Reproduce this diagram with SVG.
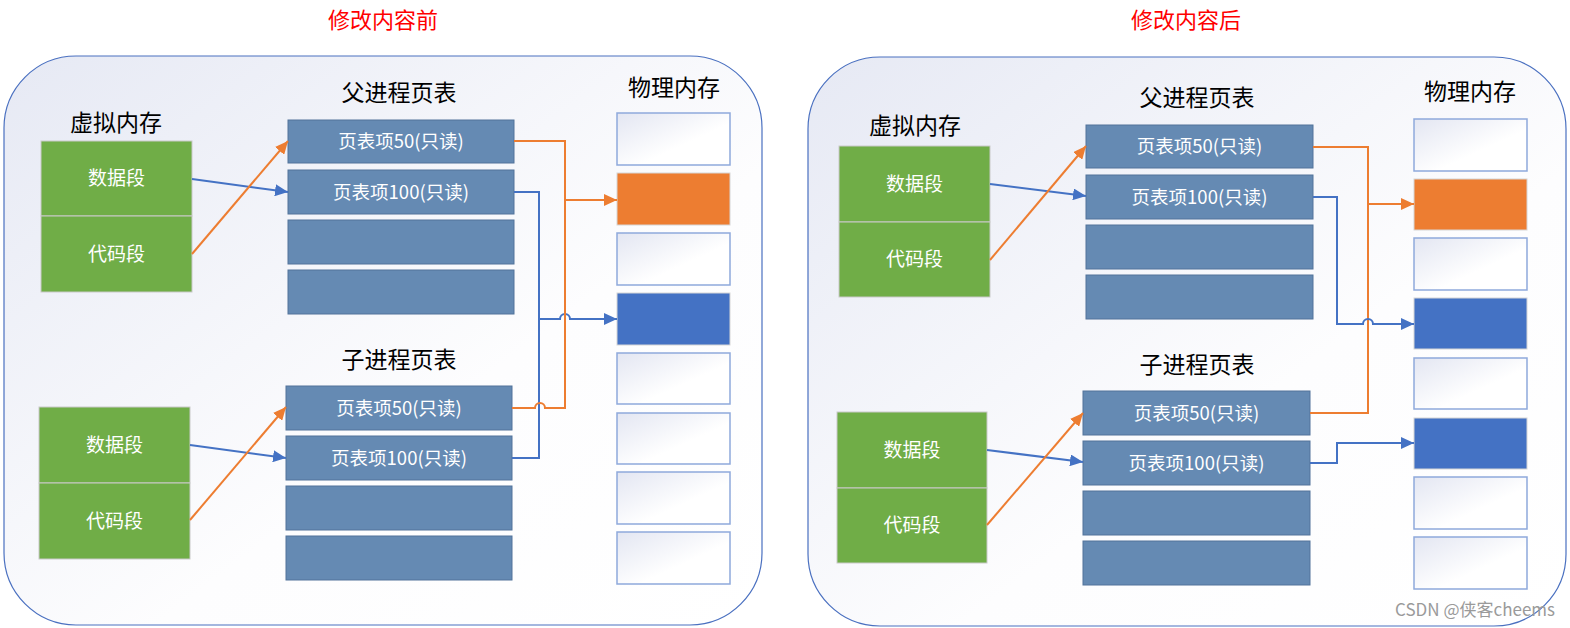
<svg xmlns="http://www.w3.org/2000/svg" width="1570" height="628" viewBox="0 0 1570 628">
<style>
  text { font-family: "Noto Sans CJK SC", "Liberation Sans", sans-serif; }
  .title { font-size: 22px; fill: #FF0000; text-anchor: middle; }
  .head { font-size: 23px; fill: #000000; text-anchor: middle; }
  .seg { fill: #70AD47; stroke: #C9C9C9; stroke-width: 1; }
  .segt { font-size: 19px; fill: #FFFFFF; text-anchor: middle; }
  .row { fill: #658AB3; stroke: #52739A; stroke-width: 1; }
  .rowt { font-size: 18.5px; fill: #FFFFFF; text-anchor: middle; }
  .cell { fill: url(#cellg); stroke: #8EA9DB; stroke-width: 1.5; }
  .cello { fill: #ED7D31; stroke: #D6D6D6; stroke-width: 1; }
  .cellb { fill: #4472C4; stroke: #D6D6D6; stroke-width: 1; }
  .panel { fill: url(#panelg); stroke: #4A70C0; stroke-width: 1.2; }
  .lo { fill: none; stroke: #ED7D31; stroke-width: 2; }
  .lb { fill: none; stroke: #4472C4; stroke-width: 2; }
  .wm { font-size: 17px; fill: #9A9A9A; text-anchor: end; }
</style>
<defs>
  <linearGradient id="panelg" x1="0" y1="0" x2="1" y2="1">
    <stop offset="0" stop-color="#E6E9F4"/>
    <stop offset="0.6" stop-color="#FDFDFE"/>
    <stop offset="1" stop-color="#FFFFFF"/>
  </linearGradient>
  <linearGradient id="cellg" x1="0" y1="0" x2="1" y2="1">
    <stop offset="0" stop-color="#E3E6F2"/>
    <stop offset="0.6" stop-color="#FFFFFF"/>
    <stop offset="1" stop-color="#FFFFFF"/>
  </linearGradient>
  <marker id="ao" markerUnits="userSpaceOnUse" markerWidth="14" markerHeight="12" refX="13" refY="6" orient="auto">
    <path d="M0,0 L13,6 L0,12 z" fill="#ED7D31"/>
  </marker>
  <marker id="ab" markerUnits="userSpaceOnUse" markerWidth="14" markerHeight="12" refX="13" refY="6" orient="auto">
    <path d="M0,0 L13,6 L0,12 z" fill="#4472C4"/>
  </marker>
</defs>

<rect width="1570" height="628" fill="#FFFFFF"/>

<!-- ===== LEFT PANEL ===== -->
<g id="panel-before">
  <rect class="panel" x="4" y="56" width="758" height="569" rx="72" ry="72"/>
  <text class="title" x="383" y="28">修改内容前</text>
</g>
<g id="vm-label-before"><text class="head" x="116" y="131">虚拟内存</text></g>
<g id="vm-parent-before">
  <rect class="seg" x="41" y="141" width="151" height="75"/>
  <text class="segt" x="116.5" y="185">数据段</text>
  <rect class="seg" x="41" y="216" width="151" height="76"/>
  <text class="segt" x="116.5" y="261">代码段</text>
</g>
<g id="vm-child-before">
  <rect class="seg" x="39" y="407" width="151" height="76"/>
  <text class="segt" x="114.5" y="452">数据段</text>
  <rect class="seg" x="39" y="483" width="151" height="76"/>
  <text class="segt" x="114.5" y="528">代码段</text>
</g>
<g id="pt-parent-before">
  <text class="head" x="399" y="101">父进程页表</text>
  <rect class="row" x="288" y="120" width="226" height="43"/>
  <text class="rowt" x="401" y="148">页表项50(只读)</text>
  <rect class="row" x="288" y="170" width="226" height="44"/>
  <text class="rowt" x="401" y="198.5">页表项100(只读)</text>
  <rect class="row" x="288" y="220" width="226" height="44"/>
  <rect class="row" x="288" y="270" width="226" height="44"/>
</g>
<g id="pt-child-before">
  <text class="head" x="399" y="368">子进程页表</text>
  <rect class="row" x="286" y="386" width="226" height="44"/>
  <text class="rowt" x="399" y="414.5">页表项50(只读)</text>
  <rect class="row" x="286" y="436" width="226" height="44"/>
  <text class="rowt" x="399" y="464.5">页表项100(只读)</text>
  <rect class="row" x="286" y="486" width="226" height="44"/>
  <rect class="row" x="286" y="536" width="226" height="44"/>
</g>
<g id="pm-before">
  <text class="head" x="674" y="96">物理内存</text>
  <rect class="cell" x="617" y="113" width="113" height="52"/>
  <rect class="cello" x="617" y="173" width="113" height="52"/>
  <rect class="cell" x="617" y="233" width="113" height="52"/>
  <rect class="cellb" x="617" y="293" width="113" height="52"/>
  <rect class="cell" x="617" y="353" width="113" height="51"/>
  <rect class="cell" x="617" y="413" width="113" height="51"/>
  <rect class="cell" x="617" y="472" width="113" height="52"/>
  <rect class="cell" x="617" y="532" width="113" height="52"/>
</g>

<!-- ===== RIGHT PANEL ===== -->
<g id="panel-after">
  <rect class="panel" x="808" y="57" width="758" height="569" rx="72" ry="72"/>
  <text class="title" x="1186" y="28">修改内容后</text>
</g>
<g id="vm-label-after"><text class="head" x="915" y="134">虚拟内存</text></g>
<g id="vm-parent-after">
  <rect class="seg" x="839" y="146" width="151" height="76"/>
  <text class="segt" x="914.5" y="191">数据段</text>
  <rect class="seg" x="839" y="222" width="151" height="75"/>
  <text class="segt" x="914.5" y="266">代码段</text>
</g>
<g id="vm-child-after">
  <rect class="seg" x="837" y="412" width="150" height="76"/>
  <text class="segt" x="912" y="457">数据段</text>
  <rect class="seg" x="837" y="488" width="150" height="75"/>
  <text class="segt" x="912" y="532">代码段</text>
</g>
<g id="pt-parent-after">
  <text class="head" x="1197" y="106">父进程页表</text>
  <rect class="row" x="1086" y="125" width="227" height="43"/>
  <text class="rowt" x="1199.5" y="153">页表项50(只读)</text>
  <rect class="row" x="1086" y="175" width="227" height="44"/>
  <text class="rowt" x="1199.5" y="203.5">页表项100(只读)</text>
  <rect class="row" x="1086" y="225" width="227" height="44"/>
  <rect class="row" x="1086" y="275" width="227" height="44"/>
</g>
<g id="pt-child-after">
  <text class="head" x="1197" y="373">子进程页表</text>
  <rect class="row" x="1083" y="391" width="227" height="44"/>
  <text class="rowt" x="1196.5" y="419.5">页表项50(只读)</text>
  <rect class="row" x="1083" y="441" width="227" height="44"/>
  <text class="rowt" x="1196.5" y="469.5">页表项100(只读)</text>
  <rect class="row" x="1083" y="491" width="227" height="44"/>
  <rect class="row" x="1083" y="541" width="227" height="44"/>
</g>
<g id="pm-after">
  <text class="head" x="1470" y="100">物理内存</text>
  <rect class="cell" x="1414" y="119" width="113" height="52"/>
  <rect class="cello" x="1414" y="179" width="113" height="51"/>
  <rect class="cell" x="1414" y="238" width="113" height="52"/>
  <rect class="cellb" x="1414" y="298" width="113" height="51"/>
  <rect class="cell" x="1414" y="358" width="113" height="51"/>
  <rect class="cellb" x="1414" y="418" width="113" height="51"/>
  <rect class="cell" x="1414" y="477" width="113" height="52"/>
  <rect class="cell" x="1414" y="537" width="113" height="52"/>
</g>

<!-- ===== CONNECTORS ===== -->
<g id="connectors">
  <!-- before -->
  <path class="lb" d="M192,179 L288,192" marker-end="url(#ab)"/>
  <path class="lo" d="M192,254 L288,141" marker-end="url(#ao)"/>
  <path class="lb" d="M190,445 L286,458" marker-end="url(#ab)"/>
  <path class="lo" d="M190,520 L286,407" marker-end="url(#ao)"/>
  <path class="lb" d="M514,192 H539 V458 H512"/>
  <path class="lb" d="M539,319 H560 a5,5 0 0 1 10,0 H617" marker-end="url(#ab)"/>
  <path class="lo" d="M514,141 H565 V408 H545 a5,5 0 0 0 -10,0 H512"/>
  <path class="lo" d="M565,200 H617" marker-end="url(#ao)"/>
  <!-- after -->
  <path class="lb" d="M990,184 L1086,196" marker-end="url(#ab)"/>
  <path class="lo" d="M990,260 L1086,146" marker-end="url(#ao)"/>
  <path class="lb" d="M987,450 L1083,462" marker-end="url(#ab)"/>
  <path class="lo" d="M987,525 L1083,413" marker-end="url(#ao)"/>
  <path class="lo" d="M1313,147 H1368 V413 H1310"/>
  <path class="lo" d="M1368,204 H1414" marker-end="url(#ao)"/>
  <path class="lb" d="M1313,197 H1337 V324 H1363 a5,5 0 0 1 10,0 H1414" marker-end="url(#ab)"/>
  <path class="lb" d="M1310,463 H1337 V443 H1414" marker-end="url(#ab)"/>
</g>

<text class="wm" x="1555" y="616">CSDN @侠客cheems</text>
</svg>
